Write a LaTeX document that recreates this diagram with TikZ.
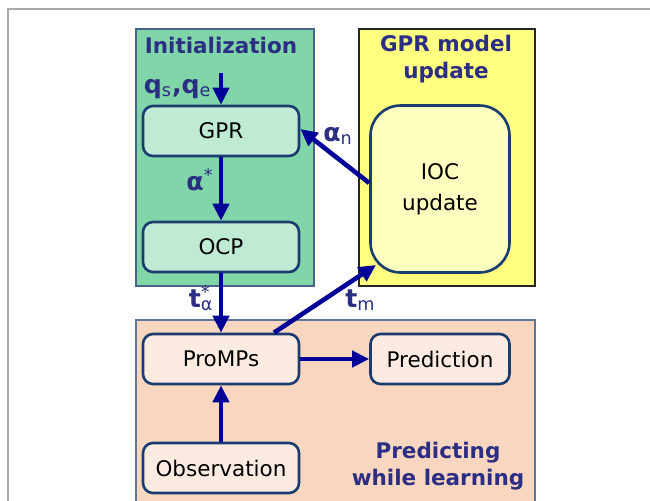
\documentclass[tikz,border=0pt]{standalone}
\usepackage{fontspec}
\setmainfont{DejaVu Sans}
\usetikzlibrary{arrows.meta,calc}
\definecolor{initfill}{HTML}{80D6A8}
\definecolor{initnode}{HTML}{BFEBD4}
\definecolor{gprfill}{HTML}{FFFF80}
\definecolor{iocfill}{HTML}{FFFFC0}
\definecolor{predfill}{HTML}{F9D6BF}
\definecolor{prednode}{HTML}{FCEBE1}
\definecolor{titlecol}{HTML}{2B2E83}
\definecolor{arrowcol}{HTML}{000099}
\definecolor{nodeborder}{HTML}{1B3C6E}
\definecolor{frameline}{HTML}{AAAAAA}
\tikzset{
  container/.style={anchor=north west, inner sep=0pt, line width=0.8pt},
  procbox/.style={draw=nodeborder, line width=1.3pt, rounded corners=5pt,
    minimum width=78pt, minimum height=25pt, inner sep=0pt, text=black,
    font=\fontsize{10.75}{13}\selectfont},
  titletext/.style={text=titlecol, font=\fontsize{10.75}{13.5}\selectfont\bfseries, align=center},
  lbl/.style={text=titlecol, font=\fontsize{12.6}{15}\selectfont, inner sep=0pt},
  flow/.style={draw=arrowcol, line width=2.3pt, -{Triangle[length=8.5pt,width=8pt]}},
}
\begin{document}
\begin{tikzpicture}[x=0.5pt,y=-0.5pt]
\useasboundingbox (0,0) rectangle (650,500);
\clip (0,0) rectangle (650,500);
% page frame
\draw[frameline, line width=0.8pt] (652,9) -- (8,9) -- (8,505);
% containers
\node[container, draw=nodeborder!80, fill=initfill, minimum width=89pt, minimum height=128.5pt] (init) at (135,28) {};
\node[container, draw=black!85, fill=gprfill, minimum width=88pt, minimum height=128.5pt] (upd) at (358,28) {};
\node[container, draw=nodeborder!70, fill=predfill, minimum width=199.5pt, minimum height=100pt] (pwl) at (135,319) {};
% titles
\node[titletext] (tinit) at (221,45) {Initialization};
\node[titletext] (tupd) at (446,59) {GPR model\\update};
\node[titletext] (tpwl) at (438,466) {Predicting\\while learning};
% process nodes
\node[procbox, fill=initnode] (gpr) at (221,131) {GPR};
\node[procbox, fill=initnode] (ocp) at (221,247) {OCP};
\node[procbox, fill=prednode] (promps) at (221,359) {ProMPs};
\node[procbox, fill=prednode, minimum width=69.5pt] (pred) at (440,359) {Prediction};
\node[procbox, fill=prednode] (obs) at (221,468) {Observation};
\node[procbox, fill=iocfill, minimum width=69.5pt, minimum height=83.5pt, rounded corners=15pt, align=center, font=\fontsize{10.75}{15.5}\selectfont] (ioc) at (440,189) {IOC\\update};
% connectors
\coordinate (qin) at (221,73);
\coordinate (iocin) at (376,265);
\draw[flow] (qin) -- (gpr.north);
\draw[flow] (gpr.south) -- (ocp.north);
\draw[flow] (ocp.south) -- (promps.north);
\draw[flow] ([yshift=3pt]ioc.west) -- ([yshift=1pt]gpr.east);
\draw[flow] ([xshift=26.5pt]promps.north) -- (iocin);
\draw[flow] (promps.east) -- (pred.west);
\draw[flow] (obs.north) -- (promps.south);
% labels
\node[lbl, anchor=base east] (lq) at (212,93) {\textbf{q}\textsubscript{s}\textbf{,q}\textsubscript{e}};
\node[lbl, anchor=base east] (la) at (214,190) {\textbf{α}\textsuperscript{*}};
\node[lbl, anchor=base west] (lan) at (323,141) {\textbf{α}\textsubscript{n}};
\node[lbl, anchor=base east] (lt) at (214,307) {\textbf{t}\rlap{\textsuperscript{*}}\textsubscript{α}};
\node[lbl, anchor=base west] (ltm) at (345,307) {\textbf{t}\textsubscript{m}};
\end{tikzpicture}
\end{document}
